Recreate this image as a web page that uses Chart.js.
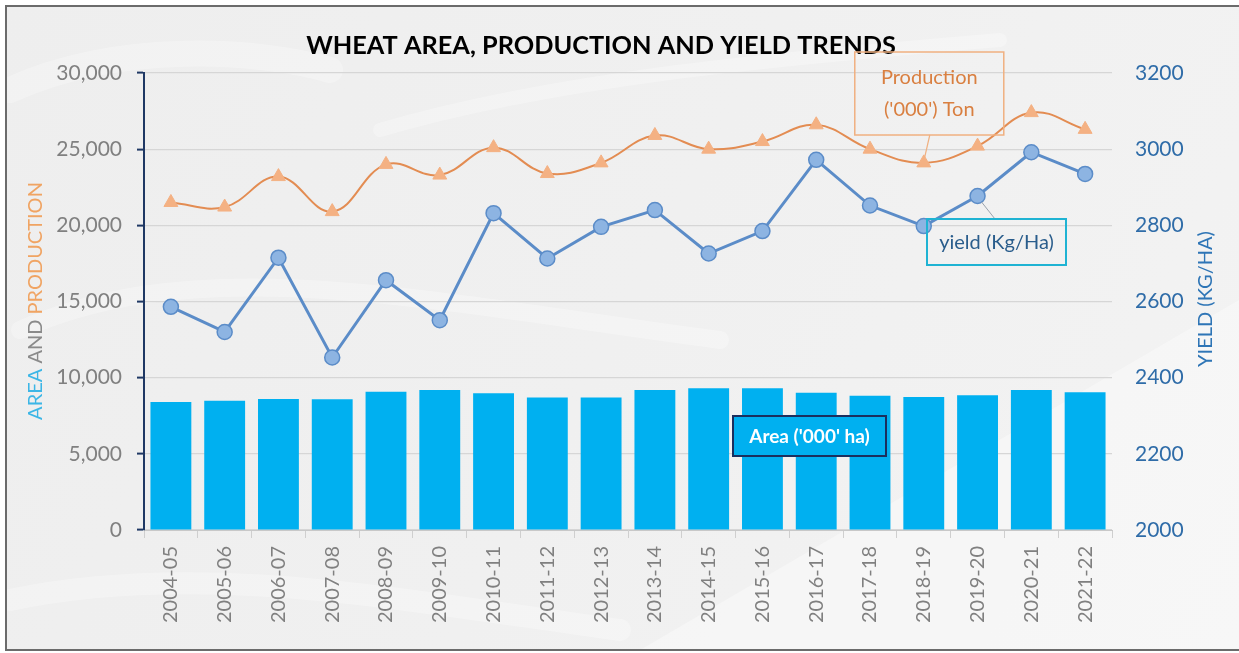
<!DOCTYPE html>
<html>
<head>
<meta charset="utf-8">
<script src="https://cdn.jsdelivr.net/npm/chart.js@4/dist/chart.umd.min.js"></script>
<style>
  html, body { margin: 0; padding: 0; background: #ffffff; }
  #wrap { width: 1239px; height: 653px; position: relative; }
  canvas { display: block; }
</style>
</head>
<body>
<div id="wrap"><canvas id="c" width="1239" height="653"></canvas></div>
<script>
// ---- Data ----
const categories = ['2004-05','2005-06','2006-07','2007-08','2008-09','2009-10','2010-11','2011-12','2012-13','2013-14','2014-15','2015-16','2016-17','2017-18','2018-19','2019-20','2020-21','2021-22'];
const areaValues = [8400, 8490, 8600, 8580, 9080, 9190, 8970, 8690, 8690, 9190, 9300, 9300, 9010, 8820, 8730, 8840, 9190, 9040];
const productionValues = [21500, 21200, 23200, 20900, 24000, 23300, 25100, 23400, 24100, 25900, 25000, 25500, 26600, 25000, 24100, 25200, 27400, 26300];
const yieldValues = [2586, 2520, 2715, 2453, 2656, 2551, 2832, 2713, 2796, 2840, 2726, 2785, 2972, 2852, 2798, 2877, 2992, 2935];

const leftTicks = [0, 5000, 10000, 15000, 20000, 25000, 30000];
const rightTicks = [2000, 2200, 2400, 2600, 2800, 3000, 3200];

const titleText = 'WHEAT AREA, PRODUCTION AND YIELD TRENDS';
const leftTitleParts = [['AREA ', '#3cb6e6'], ['AND ', '#8a8a8a'], ['PRODUCTION', '#f0a463']];
const rightTitleText = 'YIELD (KG/HA)';
const productionLabel = ['Production', "('000') Ton"];
const yieldLabel = 'yield (Kg/Ha)';
const areaLabel = "Area ('000' ha)";

const FONT = 'Lato, "Open Sans", sans-serif';

const bgPlugin = {
  id: 'bg',
  beforeDraw(chart) {
    const ctx = chart.ctx;
    ctx.save();
    ctx.fillStyle = '#ffffff';
    ctx.fillRect(0, 0, chart.width, chart.height);
    const g = ctx.createLinearGradient(0, 0, chart.width, chart.height);
    g.addColorStop(0, '#eeeeee');
    g.addColorStop(0.5, '#f0f0f0');
    g.addColorStop(1, '#f3f3f3');
    ctx.fillStyle = g;
    ctx.fillRect(6, 6, chart.width - 6, 644);
    // lighter lower-right region
    ctx.fillStyle = 'rgba(255,255,255,0.35)';
    ctx.beginPath();
    ctx.moveTo(640, 650);
    ctx.lineTo(1239, 300);
    ctx.lineTo(1239, 650);
    ctx.closePath();
    ctx.fill();
    // soft swooshes
    ctx.strokeStyle = 'rgba(255,255,255,0.28)';
    ctx.lineCap = 'round';
    ctx.lineWidth = 26;
    ctx.beginPath();
    ctx.moveTo(10, 90);
    ctx.bezierCurveTo(120, 40, 260, 50, 330, 70);
    ctx.stroke();
    ctx.lineWidth = 18;
    ctx.beginPath();
    ctx.moveTo(20, 330);
    ctx.bezierCurveTo(200, 250, 420, 300, 720, 340);
    ctx.stroke();
    ctx.lineWidth = 14;
    ctx.beginPath();
    ctx.moveTo(380, 130);
    ctx.bezierCurveTo(550, 80, 760, 60, 1000, 40);
    ctx.stroke();
    ctx.lineWidth = 22;
    ctx.beginPath();
    ctx.moveTo(10, 600);
    ctx.bezierCurveTo(200, 560, 400, 600, 620, 630);
    ctx.stroke();
    ctx.restore();
    // frame
    ctx.save();
    ctx.strokeStyle = '#6b6b6b';
    ctx.lineWidth = 2;
    ctx.beginPath();
    ctx.moveTo(1245, 6);
    ctx.lineTo(6, 6);
    ctx.lineTo(6, 650);
    ctx.lineTo(1245, 650);
    ctx.stroke();
    ctx.restore();
  }
};

function box(ctx, x, y, w, h, stroke, lw, fill) {
  if (fill) { ctx.fillStyle = fill; ctx.fillRect(x, y, w, h); }
  ctx.strokeStyle = stroke; ctx.lineWidth = lw;
  ctx.strokeRect(x, y, w, h);
}

const textPlugin = {
  id: 'texts',
  afterDraw(chart) {
    const ctx = chart.ctx;
    const xs = chart.scales.x, yl = chart.scales.y, yr = chart.scales.y2;
    ctx.save();
    // Title
    let size = 28;
    ctx.font = `bold ${size}px ${FONT}`;
    let w = ctx.measureText(titleText).width;
    if (w > 590) { size = size * 590 / w; ctx.font = `bold ${size}px ${FONT}`; }
    ctx.fillStyle = '#000000';
    ctx.textAlign = 'center';
    ctx.textBaseline = 'middle';
    ctx.fillText(titleText, 601, 46);

    // Left axis title (multi-colour)
    ctx.save();
    ctx.translate(36, 301);
    ctx.rotate(-Math.PI / 2);
    ctx.font = `20px ${FONT}`;
    let total = 0;
    leftTitleParts.forEach(p => total += ctx.measureText(p[0]).width);
    let cx = -total / 2;
    ctx.textAlign = 'left';
    leftTitleParts.forEach(p => {
      ctx.fillStyle = p[1];
      ctx.fillText(p[0], cx, 0);
      cx += ctx.measureText(p[0]).width;
    });
    ctx.restore();

    // Right axis title
    ctx.save();
    ctx.translate(1206, 299);
    ctx.rotate(-Math.PI / 2);
    ctx.font = `20px ${FONT}`;
    ctx.fillStyle = '#2e75b6';
    ctx.textAlign = 'center';
    ctx.fillText(rightTitleText, 0, 0);
    ctx.restore();

    // Production annotation (anchored to 2018-19 point)
    const pi = 14;
    const px = xs.getPixelForValue(pi), py = yl.getPixelForValue(productionValues[pi]);
    const pbx = px - 69, pby = 52, pbw = 149, pbh = 83;
    ctx.strokeStyle = '#f0b080'; ctx.lineWidth = 1.2;
    ctx.beginPath(); ctx.moveTo(px + 6, pby + pbh); ctx.lineTo(px + 1, py - 6); ctx.stroke();
    box(ctx, pbx, pby, pbw, pbh, '#f0b080', 1.5, null);
    ctx.fillStyle = '#d97f40';
    ctx.font = `20px ${FONT}`;
    ctx.textAlign = 'center';
    ctx.fillText(productionLabel[0], pbx + pbw / 2, pby + 26);
    ctx.fillText(productionLabel[1], pbx + pbw / 2, pby + 58);

    // Yield annotation (anchored to 2019-20 point)
    const yi = 15;
    const qx = xs.getPixelForValue(yi), qy = yr.getPixelForValue(yieldValues[yi]);
    const ybx = 927, yby = 219, ybw = 139, ybh = 46;
    ctx.strokeStyle = '#9aa3ad'; ctx.lineWidth = 1;
    ctx.beginPath(); ctx.moveTo(ybx + 68, yby); ctx.lineTo(qx + 4, qy + 6); ctx.stroke();
    box(ctx, ybx, yby, ybw, ybh, '#1fb3d3', 2, null);
    ctx.fillStyle = '#2a5d8c';
    ctx.font = `20px ${FONT}`;
    ctx.fillText(yieldLabel, ybx + ybw / 2, yby + ybh / 2 + 1);

    // Area annotation
    const abx = 733, aby = 416, abw = 153, abh = 40;
    box(ctx, abx, aby, abw, abh, '#1b2f5e', 2, '#00b0f0');
    ctx.fillStyle = '#ffffff';
    ctx.font = `bold 19px ${FONT}`;
    ctx.fillText(areaLabel, abx + abw / 2, aby + abh / 2 + 1);
    ctx.restore();
  }
};

new Chart(document.getElementById('c'), {
  data: {
    labels: categories,
    datasets: [
      {
        type: 'line', label: 'yield (Kg/Ha)', data: yieldValues, yAxisID: 'y2', order: 1,
        borderColor: '#5b8cc8', borderWidth: 3, tension: 0,
        pointStyle: 'circle', pointRadius: 7.5, pointBackgroundColor: '#8db4e2',
        pointBorderColor: '#5b8cc8', pointBorderWidth: 1.5
      },
      {
        type: 'line', label: "Production ('000') Ton", data: productionValues, yAxisID: 'y', order: 2,
        borderColor: '#e38c52', borderWidth: 2, tension: 0.4,
        pointStyle: 'triangle', pointRadius: 8, pointBackgroundColor: '#f4b183',
        pointBorderColor: '#f4b183', pointBorderWidth: 1
      },
      {
        type: 'bar', label: "Area ('000' ha)", data: areaValues, yAxisID: 'y', order: 3,
        backgroundColor: '#00b0f0', borderWidth: 0,
        barPercentage: 0.76, categoryPercentage: 1
      }
    ]
  },
  options: {
    responsive: false,
    devicePixelRatio: 1,
    animation: false,
    layout: { padding: { top: 73, left: 0, right: 0, bottom: 0 } },
    plugins: { legend: { display: false }, tooltip: { enabled: false }, title: { display: false } },
    scales: {
      x: {
        type: 'category',
        offset: true,
        grid: { display: true, drawOnChartArea: false, drawTicks: true, tickLength: 8, color: '#cfcfcf', offset: true },
        border: { display: true, color: '#c8c8c8', width: 1 },
        ticks: { color: '#808080', font: { family: FONT, size: 20 }, minRotation: 90, maxRotation: 90, padding: 8, autoSkip: false },
        afterFit(s) { s.height = 123; }
      },
      y: {
        position: 'left',
        min: 0, max: 30000,
        afterBuildTicks(s) { s.ticks = leftTicks.map(v => ({ value: v })); },
        grid: { color: '#d6d6d6', lineWidth: 1.2, tickColor: '#1f3864', tickLength: 7, tickWidth: 2 },
        border: { display: true, color: '#1f3864', width: 2 },
        ticks: { color: '#808080', font: { family: FONT, size: 21 }, padding: 15,
                 callback: v => v.toLocaleString('en-US') },
        afterFit(s) { s.width = 144; }
      },
      y2: {
        position: 'right',
        min: 2000, max: 3200,
        afterBuildTicks(s) { s.ticks = rightTicks.map(v => ({ value: v })); },
        grid: { display: false, drawOnChartArea: false },
        border: { display: false },
        ticks: { color: '#2f6ca8', font: { family: FONT, size: 21 }, padding: 15, callback: v => String(v) },
        afterFit(s) { s.width = 127; }
      }
    }
  },
  plugins: [bgPlugin, textPlugin]
});
</script>
</body>
</html>
